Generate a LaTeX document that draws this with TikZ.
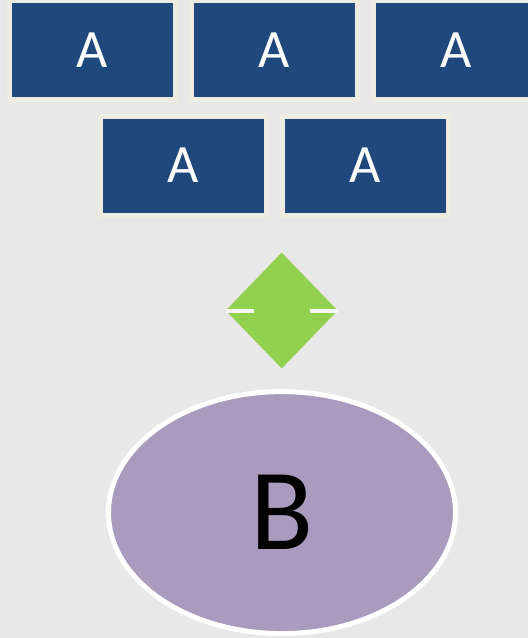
\documentclass[tikz,border=0pt]{standalone}
\usepackage{fontspec}
\setmainfont{Carlito}
\usetikzlibrary{shapes.geometric}
\definecolor{bg}{HTML}{E8E8E8}
\definecolor{boxblue}{HTML}{1F497D}
\definecolor{beige}{HTML}{EEECE1}
\definecolor{dgreen}{HTML}{92D050}
\definecolor{lilac}{HTML}{A99BBD}
\begin{document}
\begin{tikzpicture}[x=1pt,y=-1pt,
  abox/.style={rectangle,fill=boxblue,draw=beige,line width=5pt,minimum width=166pt,minimum height=99pt,inner sep=0pt,text=white,font=\fontsize{54}{54}\selectfont},
  gate/.style={diamond,fill=dgreen,minimum width=112pt,minimum height=116pt,inner sep=0pt},
  bnode/.style={ellipse,fill=lilac,draw=white,line width=5pt,minimum width=347pt,minimum height=242pt,inner sep=0pt,text=black,font=\fontsize{116}{116}\selectfont},
  gapline/.style={draw=white!60!bg,line width=4pt}]
\fill[bg] (0,0) rectangle (528,638);
\useasboundingbox (0,0) rectangle (528,638);
\node[abox] (a1) at (92.5,50) {A};
\node[abox] (a2) at (274.5,50) {A};
\node[abox] (a3) at (456.5,50) {A};
\node[abox] (a4) at (183.3,165.5) {A};
\node[abox] (a5) at (365,165.5) {A};
\node[gate] (g) at (281.7,310.5) {};
\draw[gapline] (g.west) -- ++(28.5,0);
\draw[gapline] (g.east) -- ++(-28,0);
\node[bnode] (b) at (282,512.6) {B};
\end{tikzpicture}
\end{document}
